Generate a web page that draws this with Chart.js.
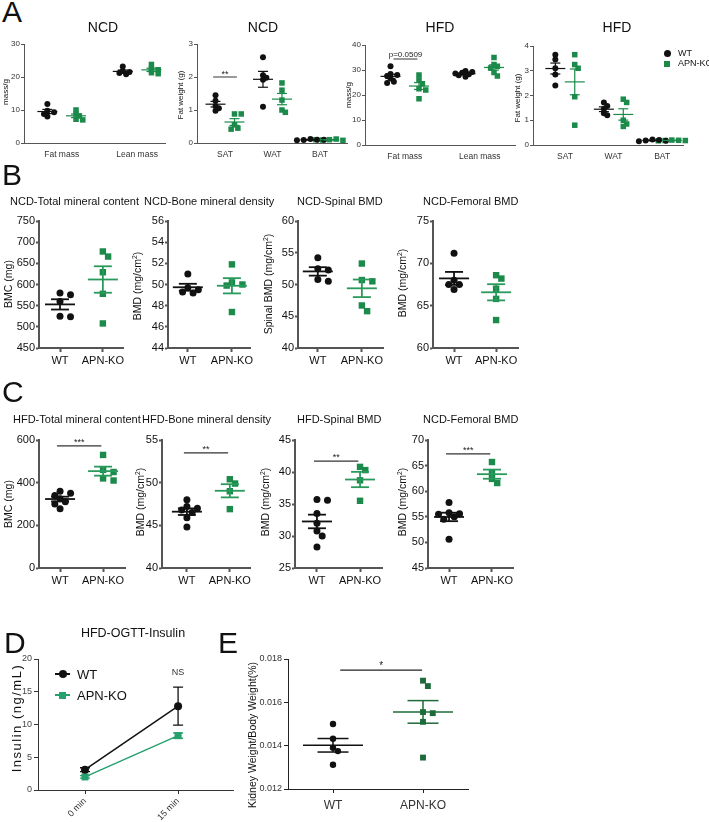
<!DOCTYPE html>
<html>
<head>
<meta charset="utf-8">
<script src="https://cdn.jsdelivr.net/npm/chart.js@4/dist/chart.umd.min.js"></script>
<style>
  body { margin: 0; background: #fff; }
  #fig { position: relative; width: 709px; height: 822px; overflow: hidden; font-family: "Liberation Sans", Arial, Helvetica, sans-serif; color: #111; }
  #fig canvas { position: absolute; }
  .t { position: absolute; white-space: nowrap; line-height: 1; }
  .t sup { font-size: 0.65em; line-height: 0; vertical-align: 0.5em; }
</style>
</head>
<body>
<div id="fig"></div>
<script>
// ---- data ----
const massCats = ['Fat mass', 'Lean mass'];
const depotCats = ['SAT', 'WAT', 'BAT'];
const genotypes = ['WT', 'APN-KO'];

// A: body composition, one list per category
const ncdMassWT = [[11.8, 9.8, 9.3, 8.8, 8.0], [23.2, 21.8, 21.5, 21.2, 20.8]];
const ncdMassKO = [[10.0, 8.8, 8.2, 7.2, 7.0], [23.8, 22.5, 22.2, 21.3, 21.0]];
const ncdFatWT = [[1.45, 1.28, 1.12, 1.05, 0.98], [2.6, 2.05, 1.98, 1.92, 1.1], [0.12, 0.1, 0.09, 0.1, 0.08]];
const ncdFatKO = [[0.88, 0.88, 0.55, 0.45, 0.42], [1.82, 1.6, 1.3, 1.0, 0.93], [0.1, 0.12, 0.09, 0.08, 0.1]];
const hfdMassWT = [[31.5, 28.4, 28.0, 27.6, 26.6, 25.3, 24.8], [29.6, 29.2, 28.9, 28.6, 28.3, 27.9, 27.3]];
const hfdMassKO = [[28.0, 26.0, 24.5, 22.5, 22.0, 18.5], [35.0, 32.2, 31.5, 30.8, 29.0, 27.6]];
const hfdFatWT = [[3.65, 3.45, 3.1, 2.85, 2.4], [1.72, 1.58, 1.45, 1.28, 1.2], [0.22, 0.2, 0.18, 0.17, 0.15]];
const hfdFatKO = [[3.65, 3.25, 3.1, 1.95, 0.8], [1.85, 1.72, 1.0, 0.85, 0.75], [0.2, 0.19, 0.18, 0.18, 0.17]];
const ncdMassTicks = [0, 10, 20, 30];
const ncdFatTicks = [0, 1, 2, 3];
const hfdMassTicks = [0, 10, 20, 30, 40];
const hfdFatTicks = [0, 1, 2, 3, 4];

// B: NCD bone, [WT, APN-KO]
const ncdBmc = [[580, 576, 560, 525, 524], [678, 666, 629, 578, 508]];
const ncdBmd = [[51.0, 49.7, 49.5, 49.2, 49.3], [51.9, 50.2, 50.0, 49.9, 47.4]];
const ncdSpinal = [[54.2, 52.5, 52.3, 50.8, 50.5], [53.3, 50.7, 50.5, 46.7, 45.8]];
const ncdFemoral = [[71.2, 68.0, 67.5, 67.5, 66.9], [68.6, 68.2, 67.0, 65.8, 63.3]];
const ncdBmcTicks = [450, 500, 550, 600, 650, 700, 750];
const ncdBmdTicks = [44, 46, 48, 50, 52, 54, 56];
const ncdSpinalTicks = [40, 45, 50, 55, 60];
const ncdFemoralTicks = [60, 65, 70, 75];

// C: HFD bone, [WT, APN-KO]
const hfdBmc = [[360, 350, 340, 325, 310, 300, 278], [530, 460, 450, 420, 410]];
const hfdBmd = [[48.0, 47.2, 47.0, 46.8, 46.5, 45.9, 44.8], [50.4, 49.9, 49.0, 46.9]];
const hfdSpinal = [[35.7, 35.6, 33.5, 32.0, 30.8, 30.0, 28.3], [40.8, 40.3, 38.7, 35.5]];
const hfdFemoral = [[57.8, 55.8, 55.6, 55.5, 55.0, 54.5, 50.6], [65.7, 63.6, 62.4, 61.6]];
const hfdBmcTicks = [0, 200, 400, 600];
const hfdBmdTicks = [40, 45, 50, 55];
const hfdSpinalTicks = [25, 30, 35, 40, 45];
const hfdFemoralTicks = [45, 50, 55, 60, 65, 70];

// D: OGTT insulin, mean and SEM
const ogttTimes = ['0 min', '15 min'];
const insulinWT = [3.1, 12.8];
const insulinWTsem = [0.3, 2.9];
const insulinKO = [2.0, 8.3];
const insulinKOsem = [0.2, 0.4];
const insulinTicks = [0, 5, 10, 15, 20];

// E: kidney weight / body weight
const kidneyWT = [0.0150, 0.01432, 0.0139, 0.01375, 0.01312];
const kidneyKO = [0.0170, 0.01675, 0.01555, 0.0155, 0.0151, 0.01345];
const kidneyTicks = [0.012, 0.014, 0.016, 0.018];

// ---- setup ----
Chart.defaults.font.family = '"Liberation Sans", Arial, Helvetica, sans-serif';
Chart.defaults.animation = false;
const fig = document.getElementById('fig');
const BLACK = '#111';
const GREEN = '#1b8a4a';
const FONT = '"Liberation Sans", Arial, sans-serif';

function text(str, x, y, size, o = {}) {
  const d = document.createElement('div');
  d.className = 't';
  d.innerHTML = str;
  d.style.fontSize = size + 'px';
  d.style.left = x + 'px';
  if (o.ls) d.style.letterSpacing = o.ls + 'px';
  if (o.rot) {
    d.style.top = y + 'px';
    d.style.transform = 'translate(-50%,-50%) rotate(-90deg)';
  } else {
    d.style.top = (y - 0.85 * size) + 'px';
    if (o.center) d.style.transform = 'translateX(-50%)';
  }
  fig.appendChild(d);
}

function mark(x, y, shape, color, s) {
  const d = document.createElement('div');
  d.style.cssText = `position:absolute;left:${x - s / 2}px;top:${y - s / 2}px;width:${s}px;height:${s}px;background:${color};border-radius:${shape === 'circle' ? '50%' : '0'}`;
  fig.appendChild(d);
}

function hline(x1, x2, y, color, w) {
  const d = document.createElement('div');
  d.style.cssText = `position:absolute;left:${x1}px;top:${y - w / 2}px;width:${x2 - x1}px;height:${w}px;background:${color}`;
  fig.appendChild(d);
}

// spread points sideways when they would overlap (beeswarm)
function swarm(vals, cx, ux, uy, d) {
  const placed = [];
  return vals.map(v => {
    const py = v * uy;
    let px = 0;
    for (const k of [0, 1, -1, 2, -2, 3, -3, 4, -4]) {
      const tx = k * d * 0.75;
      if (placed.every(([qx, qy]) => (qx - tx) ** 2 + (qy - py) ** 2 >= d * d * 0.7)) { px = tx; break; }
    }
    placed.push([px, py]);
    return { x: cx + px / ux, y: v };
  });
}

function statsPlugin(series, sig, st) {
  return {
    id: 'stats',
    afterDatasetsDraw(chart) {
      const { ctx, scales: { x, y } } = chart;
      const h = (cx, py, w) => { ctx.beginPath(); ctx.moveTo(cx - w / 2, py); ctx.lineTo(cx + w / 2, py); ctx.stroke(); };
      ctx.save();
      ctx.lineWidth = st.lw;
      series.forEach(s => {
        const n = s.vals.length;
        const m = s.vals.reduce((a, b) => a + b, 0) / n;
        const se = Math.sqrt(s.vals.reduce((a, b) => a + (b - m) ** 2, 0) / (n - 1) / n);
        const cx = x.getPixelForValue(s.x);
        ctx.strokeStyle = s.line || s.color;
        h(cx, y.getPixelForValue(m), st.meanW);
        h(cx, y.getPixelForValue(m + se), st.capW);
        h(cx, y.getPixelForValue(m - se), st.capW);
        ctx.beginPath();
        ctx.moveTo(cx, y.getPixelForValue(m + se));
        ctx.lineTo(cx, y.getPixelForValue(m - se));
        ctx.stroke();
      });
      (sig || []).forEach(g => {
        const py = y.getPixelForValue(g.y);
        const x1 = x.getPixelForValue(g.x1), x2 = x.getPixelForValue(g.x2);
        ctx.strokeStyle = st.sigColor || '#222';
        ctx.lineWidth = 1.2;
        ctx.beginPath(); ctx.moveTo(x1, py); ctx.lineTo(x2, py); ctx.stroke();
        ctx.fillStyle = '#222';
        ctx.font = `${g.size}px ${FONT}`;
        ctx.textAlign = 'center';
        ctx.textBaseline = 'alphabetic';
        ctx.fillText(g.text, (x1 + x2) / 2, py - g.gap);
      });
      ctx.restore();
    }
  };
}

function dotPanel(p) {
  const st = p.style;
  const yw = 40, xh = 30, padT = 12, padR = 16;
  const plotW = p.right - p.ax, plotH = p.bottom - p.top;
  const W = yw + plotW + padR, H = padT + plotH + xh;
  const cv = document.createElement('canvas');
  cv.width = W; cv.height = H;
  cv.style.left = (p.ax - yw) + 'px';
  cv.style.top = (p.top - padT) + 'px';
  cv.style.width = W + 'px'; cv.style.height = H + 'px';
  fig.appendChild(cv);
  const yMin = p.yTicks[0], yMax = p.yTicks[p.yTicks.length - 1];
  const ux = plotW / (p.xMax - p.xMin), uy = plotH / (yMax - yMin);
  const datasets = p.series.map(s => ({
    data: swarm(s.vals, s.x, ux, uy, st.d),
    pointStyle: s.shape,
    pointRadius: s.shape === 'rect' ? st.r * 1.3 : st.r,
    pointBackgroundColor: s.color,
    pointBorderWidth: 0,
    clip: false
  }));
  new Chart(cv, {
    type: 'scatter',
    data: { datasets },
    options: {
      responsive: false,
      layout: { padding: { top: padT, right: padR, left: 0, bottom: 0 } },
      plugins: { legend: { display: false }, tooltip: { enabled: false } },
      events: [],
      scales: {
        x: {
          type: 'linear', min: p.xMin, max: p.xMax,
          afterBuildTicks: s => { s.ticks = p.cats.map((c, i) => ({ value: i })); },
          ticks: { callback: (v, i) => p.cats[i], font: { size: st.xfs }, color: st.tc, padding: st.xpad, autoSkip: false, maxRotation: 0, minRotation: 0 },
          grid: { drawOnChartArea: false, drawTicks: true, tickLength: st.xtl, tickColor: st.xtc, tickWidth: st.aw },
          border: { display: true, color: st.ac, width: st.aw },
          afterFit: s => { s.height = xh; s.paddingLeft = 0; s.paddingRight = 0; }
        },
        y: {
          type: 'linear', min: yMin, max: yMax,
          afterBuildTicks: s => { s.ticks = p.yTicks.map(v => ({ value: v })); },
          ticks: { callback: v => (p.fmt ? p.fmt(v) : String(v)), font: { size: st.yfs }, color: st.tc, padding: st.ypad, autoSkip: false },
          grid: { drawOnChartArea: false, drawTicks: true, tickLength: st.ytl, tickColor: st.ac, tickWidth: st.aw },
          border: { display: true, color: st.ac, width: st.aw },
          afterFit: s => { s.width = yw; s.paddingTop = 0; s.paddingBottom = 0; }
        }
      }
    },
    plugins: [statsPlugin(p.series, p.sig, st)]
  });
}

function grouped(wt, ko, off) {
  const out = [];
  wt.forEach((v, i) => {
    out.push({ x: i - off, vals: v, color: BLACK, shape: 'circle' });
    out.push({ x: i + off, vals: ko[i], color: GREEN, shape: 'rect' });
  });
  return out;
}

function paired(arr, koColor, koLine) {
  return [
    { x: 0, vals: arr[0], color: BLACK, shape: 'circle' },
    { x: 1, vals: arr[1], color: koColor || GREEN, line: koLine, shape: 'rect' }
  ];
}

const styleA = { r: 3, d: 4.5, meanW: 20, capW: 10, lw: 1.2, ac: '#555', aw: 1, tc: '#333', yfs: 8, xfs: 8.5, ytl: 3, ypad: 1, xtl: 4, xtc: 'rgba(0,0,0,0)', xpad: 3, sigColor: '#555' };
const styleBC = { r: 3.5, d: 7, meanW: 30, capW: 18, lw: 1.8, ac: '#555', aw: 2, tc: '#111', yfs: 11, xfs: 11, ytl: 3, ypad: 1, xtl: 4, xtc: '#555', xpad: 2, sigColor: '#333' };
const styleE = { r: 3.2, d: 6.5, meanW: 60, capW: 31, lw: 1.5, ac: '#222', aw: 1, tc: '#333', yfs: 9, xfs: 12, ytl: 4, ypad: 2, xtl: 4, xtc: '#222', xpad: 5, sigColor: '#222' };
const KO_LINE = '#2a9a5c';

// ---- row A ----
dotPanel({ ax: 24, top: 44, bottom: 143, right: 165, xMin: -0.5, xMax: 1.37, yTicks: ncdMassTicks, cats: massCats, style: styleA,
  series: grouped(ncdMassWT, ncdMassKO, 0.19) });
dotPanel({ ax: 197, top: 44, bottom: 143, right: 347, xMin: -0.59, xMax: 2.57, yTicks: ncdFatTicks, cats: depotCats, style: styleA,
  series: grouped(ncdFatWT, ncdFatKO, 0.2),
  sig: [{ x1: -0.25, x2: 0.25, y: 2.0, text: '**', size: 9, gap: 0 }] });
dotPanel({ ax: 365, top: 45, bottom: 145, right: 515, xMin: -0.53, xMax: 1.47, yTicks: hfdMassTicks, cats: massCats, style: styleA,
  series: grouped(hfdMassWT, hfdMassKO, 0.19),
  sig: [{ x1: -0.15, x2: 0.17, y: 34.4, text: 'p=0.0509', size: 8, gap: 2 }] });
dotPanel({ ax: 533, top: 46, bottom: 145, right: 683, xMin: -0.66, xMax: 2.43, yTicks: hfdFatTicks, cats: depotCats, style: styleA,
  series: grouped(hfdFatWT, hfdFatKO, 0.2) });

// ---- row B ----
dotPanel({ ax: 39, top: 221, bottom: 348, right: 123, xMin: -0.49, xMax: 1.47, yTicks: ncdBmcTicks, cats: genotypes, style: styleBC, series: paired(ncdBmc, GREEN, KO_LINE) });
dotPanel({ ax: 168, top: 221, bottom: 348, right: 250, xMin: -0.45, xMax: 1.41, yTicks: ncdBmdTicks, cats: genotypes, style: styleBC, series: paired(ncdBmd, GREEN, KO_LINE) });
dotPanel({ ax: 298, top: 221, bottom: 348, right: 383, xMin: -0.45, xMax: 1.48, yTicks: ncdSpinalTicks, cats: genotypes, style: styleBC, series: paired(ncdSpinal, GREEN, KO_LINE) });
dotPanel({ ax: 433, top: 221, bottom: 348, right: 518, xMin: -0.5, xMax: 1.52, yTicks: ncdFemoralTicks, cats: genotypes, style: styleBC, series: paired(ncdFemoral, GREEN, KO_LINE) });

// ---- row C ----
dotPanel({ ax: 39, top: 440, bottom: 568, right: 125, xMin: -0.49, xMax: 1.51, yTicks: hfdBmcTicks, cats: genotypes, style: styleBC, series: paired(hfdBmc, GREEN, KO_LINE),
  sig: [{ x1: -0.07, x2: 0.96, y: 572, text: '***', size: 9, gap: 1 }] });
dotPanel({ ax: 162, top: 440, bottom: 568, right: 250, xMin: -0.58, xMax: 1.47, yTicks: hfdBmdTicks, cats: genotypes, style: styleBC, series: paired(hfdBmd, GREEN, KO_LINE),
  sig: [{ x1: -0.07, x2: 0.96, y: 53.5, text: '**', size: 9, gap: 1 }] });
dotPanel({ ax: 295, top: 440, bottom: 568, right: 382, xMin: -0.51, xMax: 1.51, yTicks: hfdSpinalTicks, cats: genotypes, style: styleBC, series: paired(hfdSpinal, GREEN, KO_LINE),
  sig: [{ x1: -0.07, x2: 0.96, y: 41.7, text: '**', size: 9, gap: 1 }] });
dotPanel({ ax: 428, top: 440, bottom: 568, right: 513, xMin: -0.49, xMax: 1.49, yTicks: hfdFemoralTicks, cats: genotypes, style: styleBC, series: paired(hfdFemoral, GREEN, KO_LINE),
  sig: [{ x1: -0.07, x2: 0.96, y: 67.3, text: '***', size: 9, gap: 1 }] });

// ---- E ----
dotPanel({ ax: 288, top: 659, bottom: 789, right: 468, xMin: -0.5, xMax: 1.5, yTicks: kidneyTicks, cats: genotypes, style: styleE,
  fmt: v => v.toFixed(3),
  series: [{ x: 0, vals: kidneyWT, color: BLACK, shape: 'circle' }, { x: 1, vals: kidneyKO, color: '#1d6b3a', shape: 'rect' }],
  sig: [{ x1: 0.08, x2: 0.99, y: 0.01749, text: '*', size: 10, gap: 1 }] });

// ---- D: OGTT insulin line chart ----
(function () {
  const ax = 38, top = 659, bottom = 790, right = 233, yw = 40, xh = 45, padT = 12, padR = 12;
  const W = yw + (right - ax) + padR, H = padT + (bottom - top) + xh;
  const cv = document.createElement('canvas');
  cv.width = W; cv.height = H;
  cv.style.left = (ax - yw) + 'px'; cv.style.top = (top - padT) + 'px';
  cv.style.width = W + 'px'; cv.style.height = H + 'px';
  fig.appendChild(cv);
  const KO = '#26a06e';
  const series = [
    { mean: insulinWT, sem: insulinWTsem, color: BLACK },
    { mean: insulinKO, sem: insulinKOsem, color: KO }
  ];
  const errPlugin = {
    id: 'err',
    beforeDatasetsDraw(chart) {
      const { ctx, scales: { x, y } } = chart;
      ctx.save();
      ctx.lineWidth = 1.3;
      series.forEach(s => s.mean.forEach((m, i) => {
        const cx = x.getPixelForValue(i), t = y.getPixelForValue(m + s.sem[i]), b = y.getPixelForValue(m - s.sem[i]);
        ctx.strokeStyle = s.color;
        ctx.beginPath();
        ctx.moveTo(cx, t); ctx.lineTo(cx, b);
        ctx.moveTo(cx - 5, t); ctx.lineTo(cx + 5, t);
        ctx.moveTo(cx - 5, b); ctx.lineTo(cx + 5, b);
        ctx.stroke();
      }));
      ctx.fillStyle = '#333';
      ctx.font = `9px ${FONT}`;
      ctx.textAlign = 'center';
      ctx.textBaseline = 'middle';
      ctx.fillText('NS', x.getPixelForValue(1), y.getPixelForValue(17.9));
      ctx.restore();
    }
  };
  new Chart(cv, {
    type: 'scatter',
    data: {
      datasets: [
        { data: insulinWT.map((v, i) => ({ x: i, y: v })), showLine: true, borderColor: BLACK, borderWidth: 1.5,
          pointStyle: 'circle', pointRadius: 4, pointBackgroundColor: BLACK, pointBorderWidth: 0, clip: false },
        { data: insulinKO.map((v, i) => ({ x: i, y: v })), showLine: true, borderColor: KO, borderWidth: 1.5,
          pointStyle: 'rect', pointRadius: 5, pointBackgroundColor: KO, pointBorderWidth: 0, clip: false }
      ]
    },
    options: {
      responsive: false,
      events: [],
      layout: { padding: { top: padT, right: padR, left: 0, bottom: 0 } },
      plugins: { legend: { display: false }, tooltip: { enabled: false } },
      scales: {
        x: {
          type: 'linear', min: -0.505, max: 1.59,
          afterBuildTicks: s => { s.ticks = ogttTimes.map((c, i) => ({ value: i })); },
          ticks: { callback: (v, i) => ogttTimes[i], font: { size: 9 }, color: '#333', padding: 2, autoSkip: false, minRotation: 45, maxRotation: 45 },
          grid: { drawOnChartArea: false, drawTicks: true, tickLength: 4, tickColor: '#333', tickWidth: 1 },
          border: { display: true, color: '#333', width: 1 },
          afterFit: s => { s.height = xh; s.paddingLeft = 0; s.paddingRight = 0; }
        },
        y: {
          type: 'linear', min: insulinTicks[0], max: insulinTicks[insulinTicks.length - 1],
          afterBuildTicks: s => { s.ticks = insulinTicks.map(v => ({ value: v })); },
          ticks: { font: { size: 9 }, color: '#444', padding: 2, autoSkip: false },
          grid: { drawOnChartArea: false, drawTicks: true, tickLength: 4, tickColor: '#333', tickWidth: 1 },
          border: { display: true, color: '#333', width: 1 },
          afterFit: s => { s.width = yw; s.paddingTop = 0; s.paddingBottom = 0; }
        }
      }
    },
    plugins: [errPlugin]
  });
  // legend
  hline(55, 70, 674, BLACK, 1.5); mark(62.5, 674, 'circle', BLACK, 8); text('WT', 77, 679, 13);
  hline(55, 70, 695, KO, 1.5); mark(62.5, 695, 'rect', KO, 7); text('APN-KO', 77, 700, 13);
})();

// ---- labels ----
text('A', 2, 22, 30); text('B', 2, 185, 30); text('C', 2, 402, 30); text('D', 4, 653, 30); text('E', 218, 653, 30);

[['NCD', 103], ['NCD', 263], ['HFD', 440], ['HFD', 617]].forEach(([t, x]) => text(t, x, 32, 14, { center: true }));
text('mass/g', 6, 92, 8, { rot: true });
text('Fat weight (g)', 181, 95, 8, { rot: true });
text('mass/g', 349, 95, 8, { rot: true });
text('Fat weight (g)', 518, 98, 8, { rot: true });
mark(667, 53, 'circle', BLACK, 7); text('WT', 678, 57, 9);
mark(667, 63.5, 'rect', GREEN, 6); text('APN-KO', 678, 67, 9);

const BMD = 'BMD (mg/cm<sup>2</sup>)';
[['NCD-Total mineral content', 10], ['NCD-Bone mineral density', 144], ['NCD-Spinal BMD', 297], ['NCD-Femoral BMD', 423]]
  .forEach(([t, x]) => text(t, x, 205, 11));
text('BMC (mg)', 8, 284, 10.5, { rot: true });
text(BMD, 137, 286, 10.5, { rot: true });
text('Spinal ' + BMD, 268, 284, 10.5, { rot: true });
text(BMD, 402, 283, 10.5, { rot: true });

[['HFD-Total mineral content', 13], ['HFD-Bone mineral density', 142], ['HFD-Spinal BMD', 297], ['NCD-Femoral BMD', 423]]
  .forEach(([t, x]) => text(t, x, 423, 11));
text('BMC (mg)', 8, 504, 10.5, { rot: true });
text(BMD, 140, 502, 10.5, { rot: true });
text(BMD, 265, 502, 10.5, { rot: true });
text(BMD, 402, 502, 10.5, { rot: true });

text('HFD-OGTT-Insulin', 133, 638, 12.5, { center: true });
text('Insulin (ng/mL)', 16, 718, 13, { rot: true, ls: 1.5 });
text('Kidney Weight/Body Weight(%)', 252, 735, 10.5, { rot: true });
</script>
</body>
</html>
